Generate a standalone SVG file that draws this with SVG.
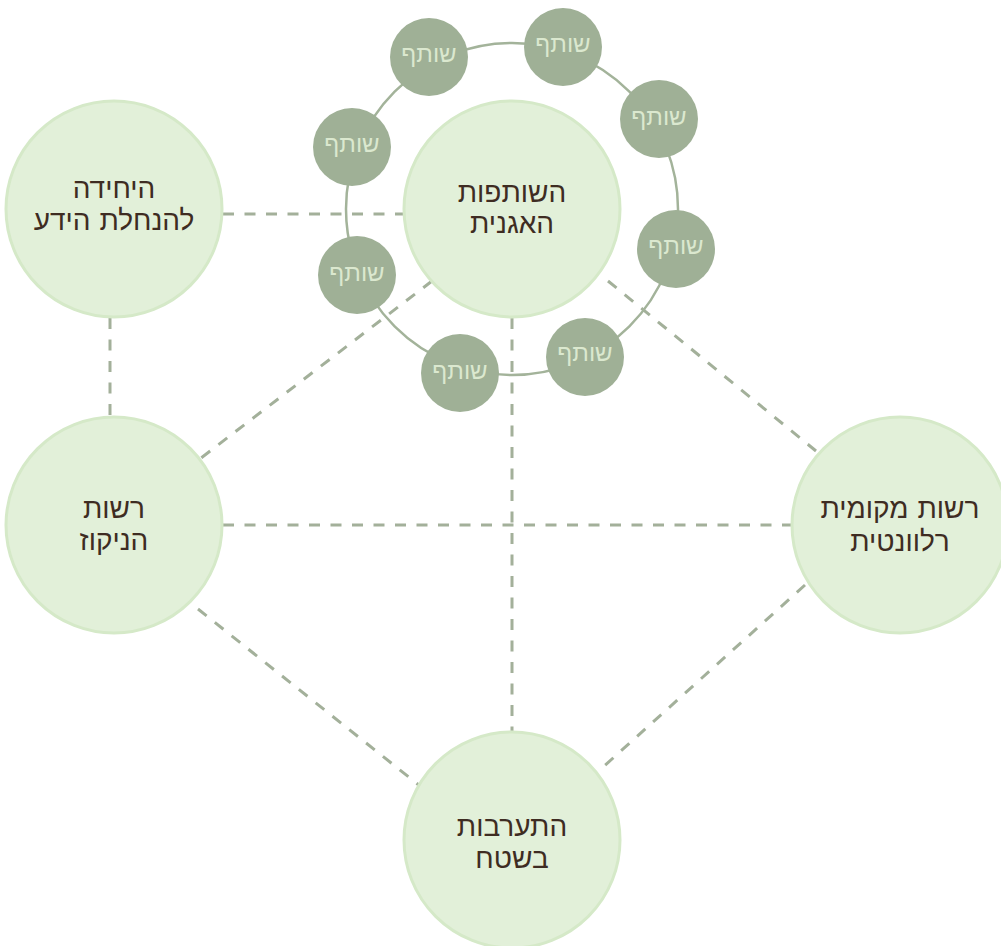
<svg xmlns="http://www.w3.org/2000/svg" width="1001" height="946" viewBox="0 0 1001 946">
<style>
.conn line{stroke:#a3b09a;stroke-width:3;stroke-dasharray:11 10.5;fill:none}
.ring{fill:none;stroke:#a3b39a;stroke-width:2.5}
.big circle{fill:#e2f0d9;stroke:#d5e9c8;stroke-width:3}
.big text{font-family:"DejaVu Sans",sans-serif;font-size:28px;font-weight:300;fill:#3e2c22;text-anchor:middle}
.small circle{fill:#9fb096}
.small text{font-family:"DejaVu Sans",sans-serif;font-size:24px;font-weight:300;fill:#dbe8cf;text-anchor:middle}
</style>
<rect width="1001" height="946" fill="#ffffff"/>
<g id="connectors" class="conn">
<line x1="223" y1="214" x2="405" y2="214"/>
<line x1="110" y1="318" x2="110" y2="418"/>
<line x1="512" y1="318" x2="512" y2="733"/>
<line x1="223" y1="525" x2="793" y2="525"/>
<line x1="432" y1="281" x2="201" y2="458"/>
<line x1="608" y1="281" x2="816" y2="451"/>
<line x1="198" y1="609" x2="420" y2="786"/>
<line x1="805" y1="585" x2="602" y2="768"/>
</g>
<circle class="ring" cx="512" cy="209" r="166"/>
<g id="node-center" class="big"><circle cx="512" cy="209" r="108"/><text x="512" y="202">השותפות</text><text x="512" y="233">האגנית</text></g>
<g id="node-knowledge" class="big"><circle cx="114" cy="209" r="108"/><text x="114" y="198">היחידה</text><text x="114" y="230">להנחלת הידע</text></g>
<g id="node-drainage" class="big"><circle cx="114" cy="525" r="108"/><text x="114" y="518">רשות</text><text x="114" y="550">הניקוז</text></g>
<g id="node-local" class="big"><circle cx="900" cy="525" r="108"/><text x="900" y="518">רשות מקומית</text><text x="900" y="551">רלוונטית</text></g>
<g id="node-field" class="big"><circle cx="512" cy="840" r="108"/><text x="512" y="836">התערבות</text><text x="512" y="868">בשטח</text></g>
<g id="partner-1" class="small"><circle cx="563" cy="47" r="39"/><text x="563" y="52">שותף</text></g>
<g id="partner-2" class="small"><circle cx="429" cy="57" r="39"/><text x="429" y="62">שותף</text></g>
<g id="partner-3" class="small"><circle cx="352" cy="147" r="39"/><text x="352" y="152">שותף</text></g>
<g id="partner-4" class="small"><circle cx="357" cy="275" r="39"/><text x="357" y="281">שותף</text></g>
<g id="partner-5" class="small"><circle cx="460" cy="373" r="39"/><text x="460" y="379">שותף</text></g>
<g id="partner-6" class="small"><circle cx="585" cy="357" r="39"/><text x="585" y="361">שותף</text></g>
<g id="partner-7" class="small"><circle cx="676" cy="249" r="39"/><text x="676" y="254">שותף</text></g>
<g id="partner-8" class="small"><circle cx="659" cy="119" r="39"/><text x="659" y="125">שותף</text></g>
</svg>
